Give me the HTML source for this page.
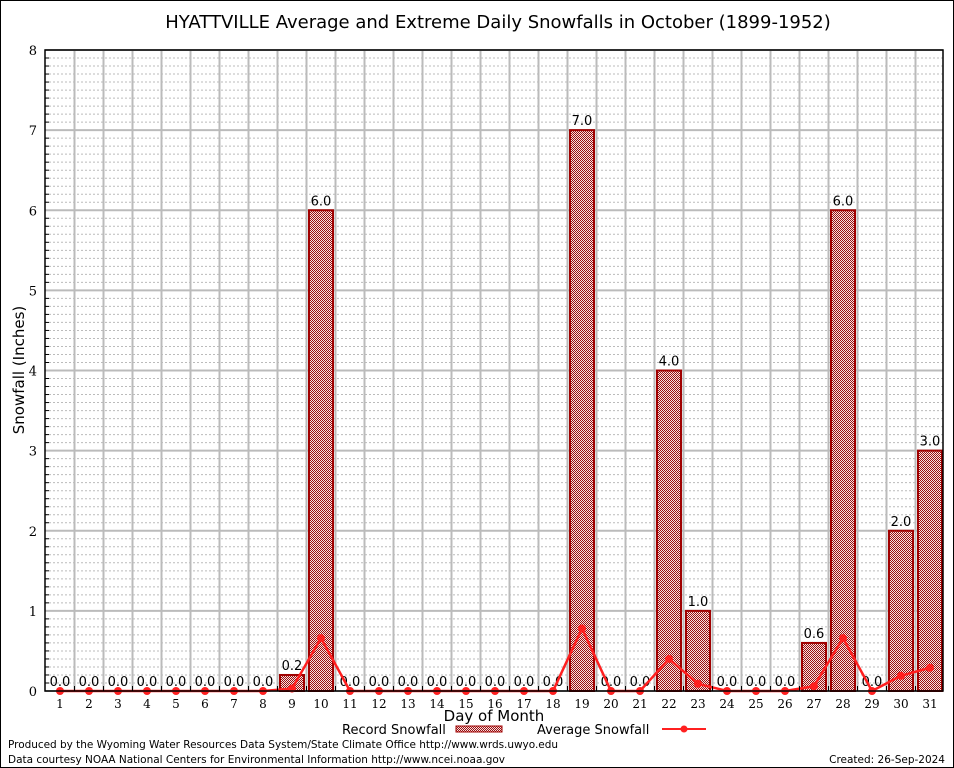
<!DOCTYPE html>
<html><head><meta charset="utf-8"><style>
body{margin:0;background:#fff;}
svg{display:block;}
.s{font-family:"DejaVu Sans","Liberation Sans",sans-serif;}
.r{font-family:"DejaVu Serif","Liberation Serif",serif;}
</style></head><body>
<svg id="c" width="954" height="768" xmlns="http://www.w3.org/2000/svg">
<defs>
<pattern id="hatch" width="2" height="2" patternUnits="userSpaceOnUse">
<rect width="2" height="2" fill="#f6e2e2"/>
<rect width="1" height="1" fill="#9a1010"/><rect x="1" y="1" width="1" height="1" fill="#9a1010"/>
</pattern>
</defs>
<rect x="0.5" y="0.5" width="953" height="767" fill="#fff" stroke="#000"/>
<text x="498" y="28" text-anchor="middle" class="s" font-size="18">HYATTVILLE Average and Extreme Daily Snowfalls in October (1899-1952)</text>
<g id="grid"></g><g id="bars"></g><g id="line"></g><g id="axes"></g>
<text x="24" y="370" transform="rotate(-90 24 370)" text-anchor="middle" class="s" font-size="15">Snowfall (Inches)</text>
<text x="494" y="721" text-anchor="middle" class="s" font-size="15">Day of Month</text>
<g>
<text x="342" y="734" class="s" font-size="13">Record Snowfall</text>
<rect x="456" y="726" width="46" height="6" fill="url(#hatch)" stroke="#a00000"/>
<text x="537" y="734" class="s" font-size="13">Average Snowfall</text>
<line x1="662" y1="729" x2="706" y2="729" stroke="#ff2020" stroke-width="2"/>
<circle cx="684" cy="729" r="3.5" fill="#ff2020"/>
</g>
<text x="8" y="748" class="s" font-size="10.5" textLength="550">Produced by the Wyoming Water Resources Data System/State Climate Office http://www.wrds.uwyo.edu</text>
<text x="8" y="763" class="s" font-size="10.5" textLength="497">Data courtesy NOAA National Centers for Environmental Information http://www.ncei.noaa.gov</text>
<text x="945" y="763" text-anchor="end" class="s" font-size="10.5">Created: 26-Sep-2024</text>
</svg>
<script>
const days=[1,2,3,4,5,6,7,8,9,10,11,12,13,14,15,16,17,18,19,20,21,22,23,24,25,26,27,28,29,30,31];
const recordVals=[0,0,0,0,0,0,0,0,0.2,6,0,0,0,0,0,0,0,0,7,0,0,4,1,0,0,0,0.6,6,0,2,3];
const avgVals=[0,0,0,0,0,0,0,0,0.03,0.66,0,0,0,0,0,0,0,0,0.78,0,0,0.4,0.09,0,0,0,0.06,0.66,0,0.19,0.29];
const yTicks=[0,1,2,3,4,5,6,7,8];
const NS="http://www.w3.org/2000/svg";
const L=45,R=943,T=50,B=691,yMax=8;
const xs=d=>60+(d-1)*29;
const ys=v=>B-(v/yMax)*(B-T);
function mk(tag,at,p){const e=document.createElementNS(NS,tag);for(const k in at)e.setAttribute(k,at[k]);p.appendChild(e);return e;}
const grid=document.getElementById('grid'),bars=document.getElementById('bars'),line=document.getElementById('line'),axes=document.getElementById('axes');
for(let i=1;i<yMax*10;i++){if(i%10===0)continue;const y=ys(i/10);
const g=mk('line',{x1:L,x2:R,y1:y,y2:y,stroke:'#bbb','stroke-dasharray':'2,2','stroke-width':1},grid);

const t=mk('line',{x1:L,x2:L+4,y1:y,y2:y,stroke:'#000'},axes);
}
yTicks.forEach(v=>{const y=ys(v);
const g=mk('line',{x1:L,x2:R,y1:y,y2:y,stroke:'#bbb','stroke-width':2},grid);

const t=mk('text',{x:L-8,y:y+5,'text-anchor':'end','font-size':13,class:'r'},axes);t.textContent=v;
});
days.forEach((d,i)=>{if(i<days.length-1){const x=xs(d)+14.5;
const g=mk('line',{x1:x,x2:x,y1:T,y2:B,stroke:'#bbb','stroke-width':2},grid);

const t=mk('line',{x1:x,x2:x,y1:B,y2:B-5,stroke:'#000'},axes);}
const lb=mk('text',{x:xs(d),y:B+17,'text-anchor':'middle','font-size':12,class:'r'},axes);lb.textContent=d;

const v=recordVals[i];
if(v>0){const b=mk('rect',{x:xs(d)-12,y:ys(v),width:24,height:B-ys(v),fill:'url(#hatch)',stroke:'#a00000','stroke-width':2},bars);
}
const vl=mk('text',{x:xs(d),y:ys(v)-5,'text-anchor':'middle','font-size':13,class:'s'},bars);vl.textContent=v.toFixed(1);
});
const pts=days.map((d,i)=>xs(d)+','+ys(avgVals[i])).join(' ');
const pl=mk('polyline',{points:pts,fill:'none',stroke:'#ff2020','stroke-width':2.5},line);

days.forEach((d,i)=>{const c=mk('circle',{cx:xs(d),cy:ys(avgVals[i]),r:4,fill:'#ff2020'},line);
});
const ax=mk('rect',{x:L,y:T,width:R-L,height:B-T,fill:'none',stroke:'#000','stroke-width':1.5},axes);

</script>
</body></html>
